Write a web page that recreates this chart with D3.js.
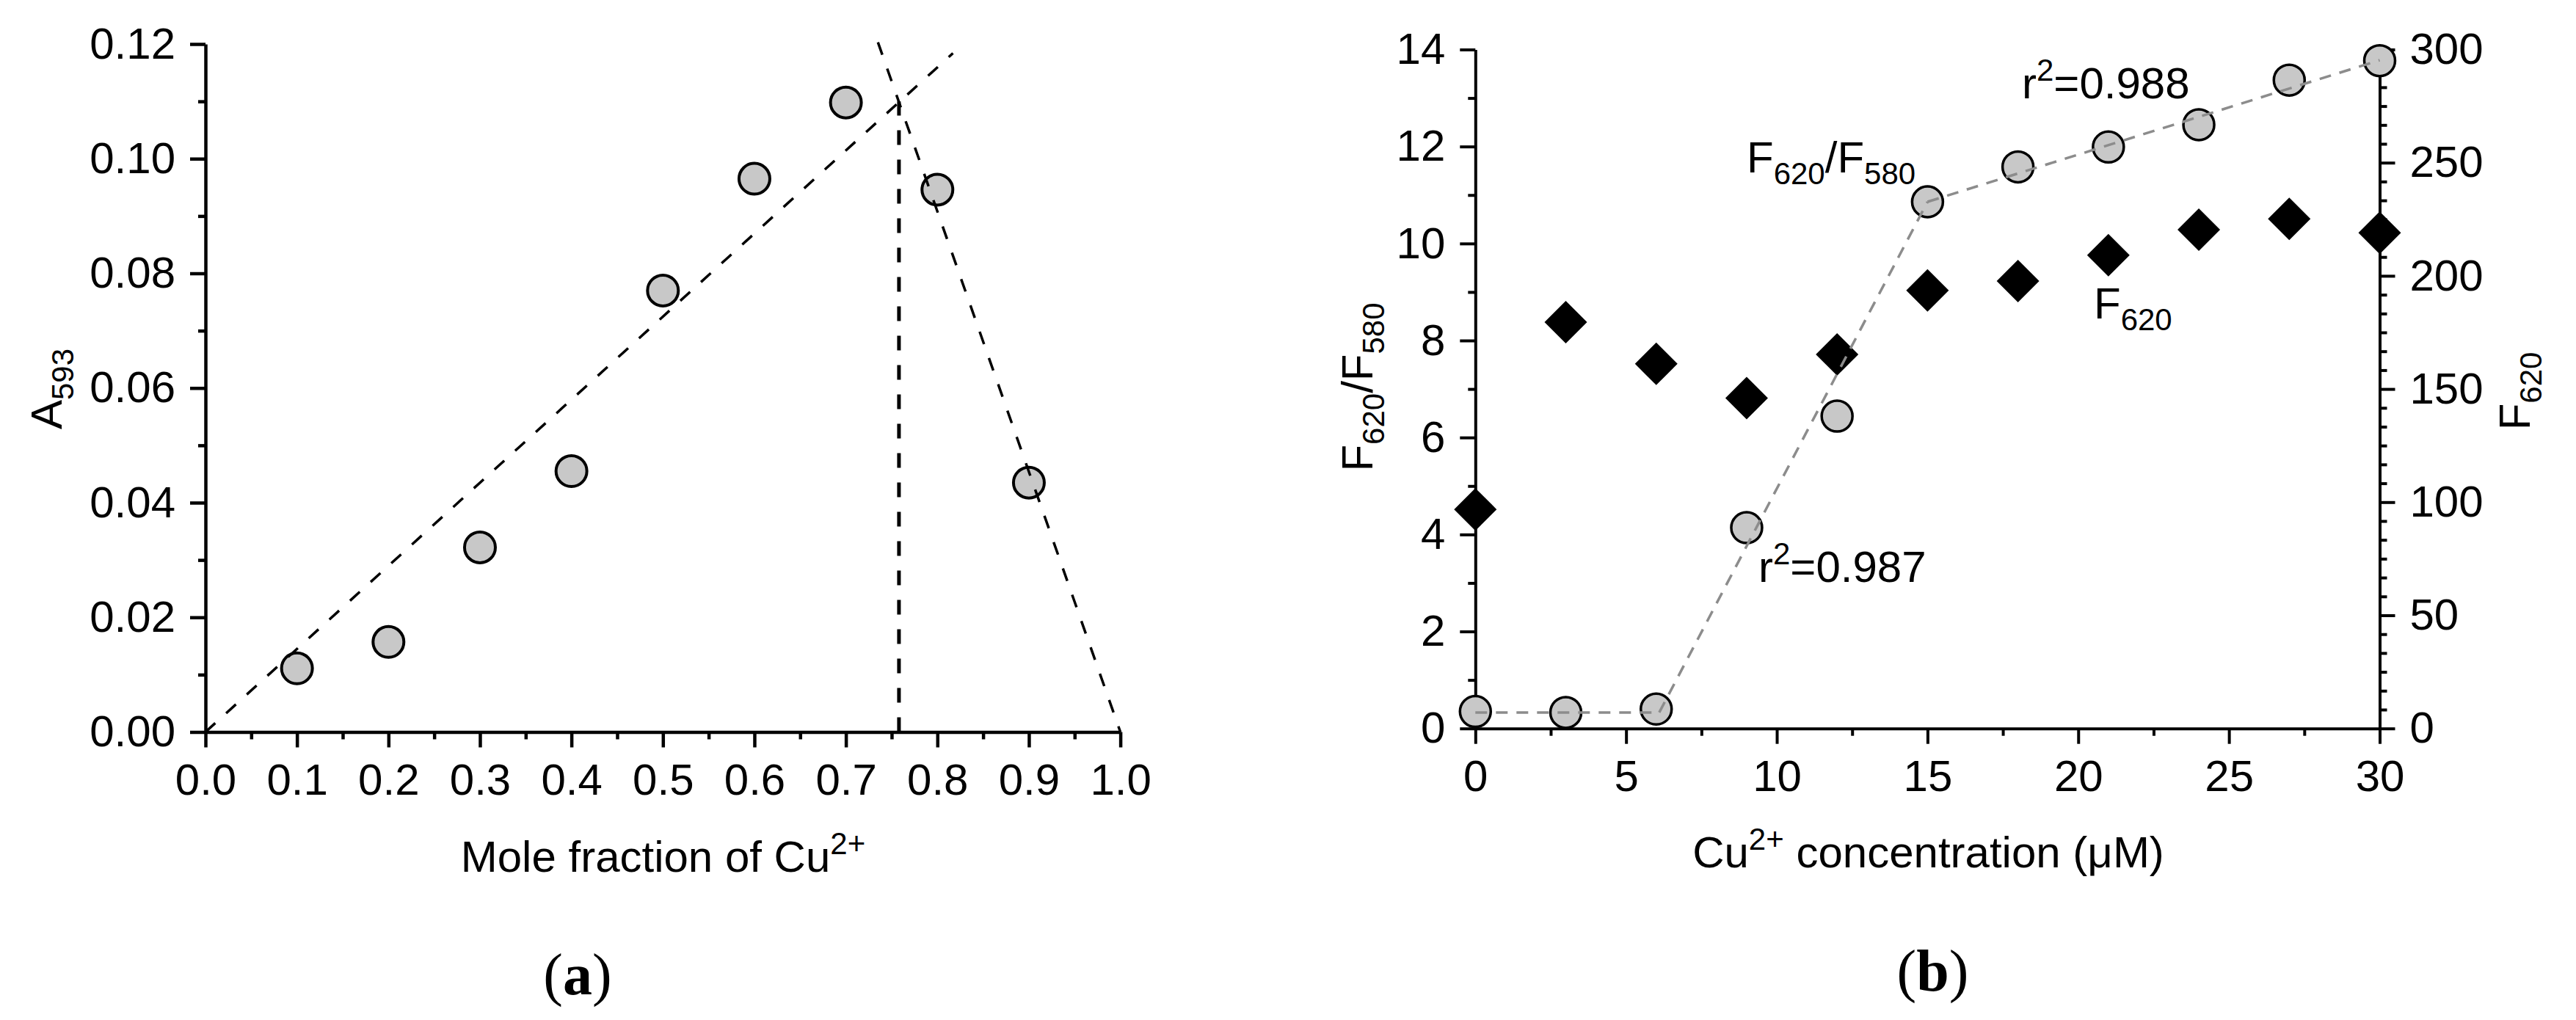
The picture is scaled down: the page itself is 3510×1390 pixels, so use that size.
<!DOCTYPE html>
<html><head><meta charset="utf-8">
<script src="https://cdn.jsdelivr.net/npm/d3@7"></script>
<style>
html,body{margin:0;padding:0;background:#fff;}
svg{display:block;}
text{font-family:"Liberation Sans",Arial,sans-serif;fill:#000;}
</style></head><body>
<svg id="chart" width="3510" height="1390"></svg>
<script>
// ---------- Panel (a): Job's plot ----------
const molFraction = [0.1, 0.2, 0.3, 0.4, 0.5, 0.6, 0.7, 0.8, 0.9];
const absorbance593 = [0.0111, 0.0157, 0.0322, 0.0455, 0.0770, 0.0965, 0.1098, 0.0946, 0.0435];
const fitRisingA = [[0, 0], [0.817, 0.1184]];
const fitFallingA = [[0.735, 0.1203], [1.0, 0]];
const intersectionA = [[0.758, 0], [0.758, 0.110]];
const xTicksA = [0, 0.1, 0.2, 0.3, 0.4, 0.5, 0.6, 0.7, 0.8, 0.9, 1.0];
const xMinorA = [0.05, 0.15, 0.25, 0.35, 0.45, 0.55, 0.65, 0.75, 0.85, 0.95];
const yTicksA = [0, 0.02, 0.04, 0.06, 0.08, 0.10, 0.12];
const yMinorA = [0.01, 0.03, 0.05, 0.07, 0.09, 0.11];

// ---------- Panel (b): titration ----------
const cuConc = [0, 3, 6, 9, 12, 15, 18, 21, 24, 27, 30];
const ratioF620F580 = [0.35, 0.33, 0.40, 4.14, 6.44, 10.86, 11.58, 11.99, 12.45, 13.37, 13.77];
const intensityF620 = [96.8, 179.5, 161.1, 146.0, 165.3, 193.6, 197.7, 209.1, 220.4, 225.2, 219.0];
const fitSegmentsB = [
  [[0, 0.33], [6.1, 0.33]],
  [[6.1, 0.33], [15, 10.86]],
  [[15, 10.86], [30, 13.78]]
];
const xTicksB = [0, 5, 10, 15, 20, 25, 30];
const xMinorB = [2.5, 7.5, 12.5, 17.5, 22.5, 27.5];
const yTicksBLeft = [0, 2, 4, 6, 8, 10, 12, 14];
const yMinorBLeft = [1, 3, 5, 7, 9, 11, 13];
const yTicksBRight = [0, 50, 100, 150, 200, 250, 300];
const yMinorBRight = d3.range(0, 300, 50).flatMap(b => [1, 2, 3, 4, 5].map(k => b + k * 50 / 6));

const svg = d3.select("#chart");
svg.append("rect").attr("width", 3510).attr("height", 1390).attr("fill", "#fff");

const FS = 60, SUB = 42;

function styleAxis(g, sw) {
  g.selectAll(".domain").attr("stroke", "#000").attr("stroke-width", sw);
  g.selectAll(".tick line").attr("stroke", "#000").attr("stroke-width", sw);
  g.selectAll(".tick text").attr("font-size", FS).attr("font-family", '"Liberation Sans",Arial,sans-serif').attr("fill", "#000");
}
function axisPair(gen, scale, major, minor, fmt, sw, transform) {
  const gMin = svg.append("g").attr("transform", transform)
    .call(gen(scale).tickValues(minor).tickSize(10).tickFormat(""));
  gMin.select(".domain").remove();
  styleAxis(gMin, sw);
  const gMaj = svg.append("g").attr("transform", transform)
    .call(gen(scale).tickValues(major).tickSize(21).tickSizeOuter(0).tickPadding(20).tickFormat(fmt));
  styleAxis(gMaj, sw);
  return gMaj;
}

// ===== Panel (a) =====
const xA = d3.scaleLinear().domain([0, 1]).range([280, 1526.6]);
const yA = d3.scaleLinear().domain([0, 0.12]).range([997.5, 60]);

const gxA = axisPair(d3.axisBottom, xA, xTicksA, xMinorA, d3.format(".1f"), 4.5, `translate(0,${yA(0)})`);
gxA.selectAll(".tick text").attr("y", 43).attr("dy", "0.71em");
axisPair(d3.axisLeft, yA, yTicksA, yMinorA, d3.format(".2f"), 4.5, `translate(${xA(0)},0)`);

const ptsA = molFraction.map((m, i) => [m, absorbance593[i]]);
svg.append("g").selectAll("circle").data(ptsA).join("circle")
  .attr("cx", d => xA(d[0])).attr("cy", d => yA(d[1])).attr("r", 21)
  .attr("fill", "#c8c8c8").attr("stroke", "#000").attr("stroke-width", 4);

const lineA = d3.line().x(d => xA(d[0])).y(d => yA(d[1]));
[fitRisingA, fitFallingA].forEach(seg => {
  svg.append("path").attr("d", lineA(seg)).attr("fill", "none")
    .attr("stroke", "#000").attr("stroke-width", 3.5).attr("stroke-dasharray", "18,20");
});
svg.append("path").attr("d", lineA(intersectionA)).attr("fill", "none")
  .attr("stroke", "#000").attr("stroke-width", 5).attr("stroke-dasharray", "20,20");

// labels (a)
const xlabA = svg.append("text").attr("x", 903.5).attr("y", 1188).attr("text-anchor", "middle").attr("font-size", FS);
xlabA.append("tspan").text("Mole fraction of Cu");
xlabA.append("tspan").attr("font-size", SUB).attr("dy", -24).text("2+");

const ylabA = svg.append("text").attr("transform", "translate(84,530) rotate(-90)")
  .attr("text-anchor", "middle").attr("font-size", FS);
ylabA.append("tspan").text("A");
ylabA.append("tspan").attr("font-size", SUB).attr("dy", 16).text("593");

const capA = svg.append("text").attr("x", 787).attr("y", 1355).attr("text-anchor", "middle")
  .attr("font-size", 80).style("font-family", '"Liberation Serif","Times New Roman",serif');
capA.append("tspan").text("(");
capA.append("tspan").attr("font-weight", "bold").text("a");
capA.append("tspan").text(")");

// ===== Panel (b) =====
const xB = d3.scaleLinear().domain([0, 30]).range([2010.3, 3242.5]);
const yBL = d3.scaleLinear().domain([0, 14]).range([992.7, 67.5]);
const yBR = d3.scaleLinear().domain([0, 300]).range([992.7, 67.5]);

const gxB = axisPair(d3.axisBottom, xB, xTicksB, xMinorB, d3.format("d"), 4, `translate(0,${yBL(0)})`);
gxB.selectAll(".tick text").attr("y", 43).attr("dy", "0.71em");
axisPair(d3.axisLeft, yBL, yTicksBLeft, yMinorBLeft, d3.format("d"), 4, `translate(${xB(0)},0)`);
axisPair(d3.axisRight, yBR, yTicksBRight, yMinorBRight, d3.format("d"), 4, `translate(${xB(30)},0)`);

// diamonds F620 (right axis)
const diamond = d3.symbol().type(d3.symbolSquare).size(1682);
svg.append("g").selectAll("path").data(cuConc.map((c, i) => [c, intensityF620[i]])).join("path")
  .attr("d", diamond)
  .attr("transform", d => `translate(${xB(d[0])},${yBR(d[1])}) rotate(45)`)
  .attr("fill", "#000");

// circles ratio (left axis)
svg.append("g").selectAll("circle").data(cuConc.map((c, i) => [c, ratioF620F580[i]])).join("circle")
  .attr("cx", d => xB(d[0])).attr("cy", d => yBL(d[1])).attr("r", 21)
  .attr("fill", "#c8c8c8").attr("stroke", "#000").attr("stroke-width", 3.5);

const lineB = d3.line().x(d => xB(d[0])).y(d => yBL(d[1]));
fitSegmentsB.forEach(seg => {
  svg.append("path").attr("d", lineB(seg)).attr("fill", "none")
    .attr("stroke", "#8c8c8c").attr("stroke-width", 3.5).attr("stroke-dasharray", "16,12");
});

// annotations
function subText(x, y, main, sub, rest, restSub) {
  const t = svg.append("text").attr("x", x).attr("y", y).attr("font-size", FS);
  t.append("tspan").text(main);
  t.append("tspan").attr("font-size", SUB).attr("dy", 16).text(sub);
  if (rest) {
    t.append("tspan").attr("dy", -16).text(rest);
    t.append("tspan").attr("font-size", SUB).attr("dy", 16).text(restSub);
  }
  return t;
}
function supText(x, y, main, sup, rest) {
  const t = svg.append("text").attr("x", x).attr("y", y).attr("font-size", FS);
  t.append("tspan").text(main);
  t.append("tspan").attr("font-size", SUB).attr("dy", -24).text(sup);
  t.append("tspan").attr("dy", 24).text(rest);
  return t;
}
subText(2380, 235, "F", "620", "/F", "580");
supText(2755, 134, "r", "2", "=0.988");
subText(2853, 434, "F", "620");
supText(2396, 793, "r", "2", "=0.987");

const xlabB = svg.append("text").attr("x", 2627.5).attr("y", 1182).attr("text-anchor", "middle").attr("font-size", FS);
xlabB.append("tspan").text("Cu");
xlabB.append("tspan").attr("font-size", SUB).attr("dy", -24).text("2+");
xlabB.append("tspan").attr("dy", 24).text(" concentration (\u03BCM)");

const ylabBL = svg.append("text").attr("transform", "translate(1870,527.5) rotate(-90)")
  .attr("text-anchor", "middle").attr("font-size", FS);
ylabBL.append("tspan").text("F");
ylabBL.append("tspan").attr("font-size", SUB).attr("dy", 16).text("620");
ylabBL.append("tspan").attr("dy", -16).text("/F");
ylabBL.append("tspan").attr("font-size", SUB).attr("dy", 16).text("580");

const ylabBR = svg.append("text").attr("transform", "translate(3447,533) rotate(-90)")
  .attr("text-anchor", "middle").attr("font-size", FS);
ylabBR.append("tspan").text("F");
ylabBR.append("tspan").attr("font-size", SUB).attr("dy", 16).text("620");

const capB = svg.append("text").attr("x", 2633.5).attr("y", 1350).attr("text-anchor", "middle")
  .attr("font-size", 80).style("font-family", '"Liberation Serif","Times New Roman",serif');
capB.append("tspan").text("(");
capB.append("tspan").attr("font-weight", "bold").text("b");
capB.append("tspan").text(")");
</script>
</body></html>
